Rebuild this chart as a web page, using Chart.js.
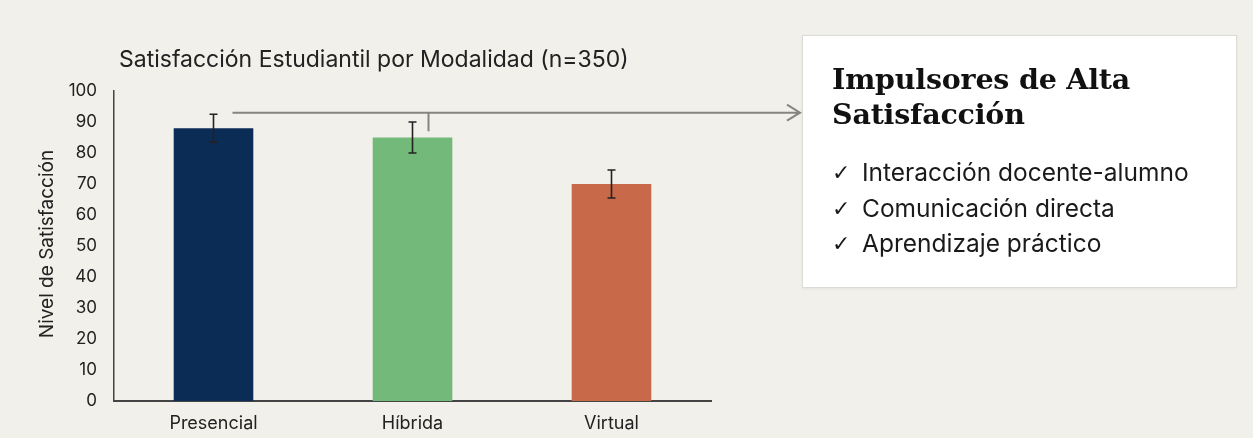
<!DOCTYPE html>
<html>
<head>
<meta charset="utf-8">
<script src="https://cdn.jsdelivr.net/npm/chart.js@4"></script>
<style>
  html,body{margin:0;padding:0;background:#f1f0ea;width:1253px;height:438px;overflow:hidden;}
  #wrap{position:absolute;left:0;top:0;width:1253px;height:438px;}
  #panel{position:absolute;left:802px;top:35px;width:433px;height:251px;background:#fff;border:1px solid #dcdcd6;box-shadow:0 1px 3px rgba(0,0,0,0.06);}
  #panel h2{position:absolute;left:29px;top:26px;margin:0;font-family:"DejaVu Serif",serif;font-weight:bold;font-size:28.5px;line-height:35px;color:#111;letter-spacing:-0.2px;white-space:nowrap;}
  #panel ul{position:absolute;left:29px;top:119px;margin:0;padding:0;list-style:none;font-family:Inter,"Noto Sans",sans-serif;font-size:24.5px;color:#1a1a1a;white-space:nowrap;}
  #panel ul li{height:35.5px;line-height:35.5px;}
  #panel ul li span{font-family:"DejaVu Sans",sans-serif;font-size:22px;display:inline-block;width:30px;line-height:35.5px;vertical-align:top;}
</style>
</head>
<body>
<div id="wrap"><canvas id="c" width="1253" height="438"></canvas></div>
<div id="panel">
  <h2>Impulsores de Alta<br>Satisfacción</h2>
  <ul>
    <li><span>✓</span>Interacción docente-alumno</li>
    <li><span>✓</span>Comunicación directa</li>
    <li><span>✓</span>Aprendizaje práctico</li>
  </ul>
</div>
<script>
const categories = ["Presencial", "Híbrida", "Virtual"];
const satisfaction = [88, 85, 70];
const errorMargin = [4.5, 5, 4.5];
const barColors = ["#0b2d55", "#72b97a", "#c8694a"];
const chartTitle = "Satisfacción Estudiantil por Modalidad (n=350)";
const yTitle = "Nivel de Satisfacción";

const FONT = "Inter, 'Noto Sans', sans-serif";

const errorBars = {
  id: "errorBars",
  afterDatasetsDraw(chart) {
    const {ctx, scales:{x, y}} = chart;
    ctx.save();
    ctx.strokeStyle = "#222";
    ctx.lineWidth = 1.6;
    satisfaction.forEach((v, i) => {
      const cx = x.getPixelForValue(i);
      const top = y.getPixelForValue(v + errorMargin[i]);
      const bot = y.getPixelForValue(v - errorMargin[i]);
      ctx.beginPath();
      ctx.moveTo(cx, top); ctx.lineTo(cx, bot);
      ctx.moveTo(cx - 4, top); ctx.lineTo(cx + 4, top);
      ctx.moveTo(cx - 4, bot); ctx.lineTo(cx + 4, bot);
      ctx.stroke();
    });
    ctx.restore();
  }
};

const decor = {
  id: "decor",
  afterDraw(chart) {
    const {ctx, scales:{x, y}, chartArea} = chart;
    ctx.save();
    ctx.fillStyle = "#222";
    ctx.font = "23px " + FONT;
    ctx.textBaseline = "middle";
    ctx.textAlign = "left";
    ctx.fillText(chartTitle, 119, 60);
    ctx.save();
    ctx.translate(47, 244);
    ctx.rotate(-Math.PI / 2);
    ctx.textAlign = "center";
    ctx.font = "19px " + FONT;
    ctx.fillText(yTitle, 0, 0);
    ctx.restore();
    const ay = y.getPixelForValue(93);
    const ax0 = x.getPixelForValue(0) + 19;
    const ax1 = 800;
    ctx.strokeStyle = "#858580";
    ctx.lineWidth = 2;
    ctx.beginPath();
    ctx.moveTo(ax0, ay); ctx.lineTo(ax1, ay);
    ctx.moveTo(ax1 - 13, ay - 8); ctx.lineTo(ax1, ay); ctx.lineTo(ax1 - 13, ay + 8);
    const tx = x.getPixelForValue(1) + 16;
    ctx.moveTo(tx, ay); ctx.lineTo(tx, y.getPixelForValue(87));
    ctx.stroke();
    ctx.restore();
  }
};

new Chart(document.getElementById("c"), {
  type: "bar",
  data: {
    labels: categories,
    datasets: [{
      data: satisfaction,
      backgroundColor: barColors,
      borderWidth: 0,
      barPercentage: 0.4,
      categoryPercentage: 1.0
    }]
  },
  options: {
    responsive: false,
    animation: false,
    layout: {padding: {left: 0, top: 91, right: 542, bottom: 0}},
    plugins: {legend: {display: false}, tooltip: {enabled: false}, title: {display: false}},
    scales: {
      x: {
        grid: {display: false, drawTicks: false},
        border: {display: true, color: "#444", width: 2},
        ticks: {color: "#222", font: {family: FONT, size: 18}, padding: 12},
        afterFit(s) { s.height = 37; }
      },
      y: {
        min: 0, max: 100,
        grid: {display: false, drawTicks: false},
        border: {display: true, color: "#444", width: 1.5},
        ticks: {stepSize: 10, color: "#222", font: {family: FONT, size: 17}, padding: 17},
        afterFit(s) { s.width = 114; }
      }
    }
  },
  plugins: [errorBars, decor]
});
</script>
</body>
</html>
